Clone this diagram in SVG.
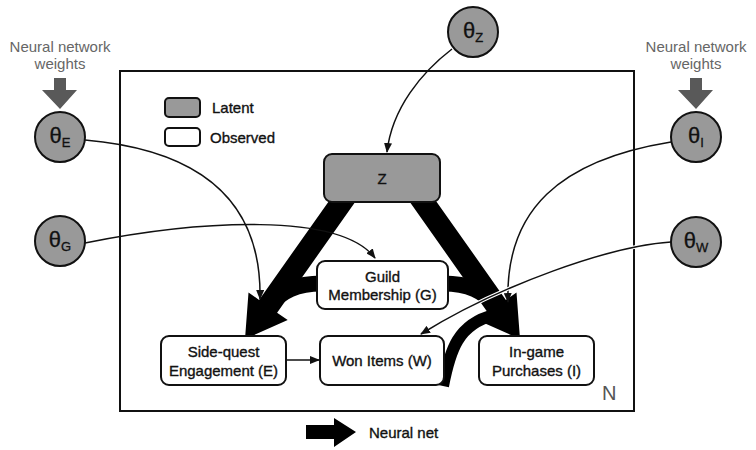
<svg xmlns="http://www.w3.org/2000/svg" width="756" height="450" viewBox="0 0 756 450">
<style>
text{font-family:"Liberation Sans",Arial,sans-serif;fill:#111}
.lbl{font-size:15px;text-anchor:middle;stroke:#111;stroke-width:0.35}
.leg{font-size:15px;stroke:#111;stroke-width:0.35}
.gray{fill:#666;font-size:15px;text-anchor:middle}
.th{font-size:22px;text-anchor:middle;stroke:#111;stroke-width:0.3}
.sub{font-size:13px}
.par{fill:#999;stroke:#111;stroke-width:2}
.obs{fill:#fff;stroke:#111;stroke-width:2}
.lat{fill:#999;stroke:#111;stroke-width:2}
.thin{fill:none;stroke:#111;stroke-width:1.5}
.halo{fill:none;stroke:#fff;stroke-width:3.5}
.band{fill:none;stroke:#000}
.gw{fill:#595959}
</style>
<defs>
<marker id="ah" viewBox="0 0 10 8" refX="9" refY="4" markerUnits="userSpaceOnUse" markerWidth="10" markerHeight="8" orient="auto">
<path d="M0,0 L10,4 L0,8 z" fill="#111"/>
</marker>
</defs>

<rect id="plate" x="120" y="71" width="514" height="340" fill="none" stroke="#111" stroke-width="2"/>
<text x="602" y="400" style="font-size:20px;fill:#555">N</text>

<g id="legend">
<rect x="165" y="98" width="35" height="19" rx="4" class="lat"/>
<text x="212" y="113" class="leg">Latent</text>
<rect x="165" y="128" width="35" height="18" rx="4" class="obs"/>
<text x="210" y="143" class="leg">Observed</text>
<polygon points="306,425 334,425 334,418 356,432 334,447 334,439 306,439" fill="#000"/>
<text x="369" y="438" class="leg">Neural net</text>
</g>

<g id="weights-left">
<text x="60" y="52" class="gray">Neural network</text>
<text x="60" y="69" class="gray">weights</text>
<polygon points="54,78 66,78 66,90 77,90 60,109 42,90 54,90" class="gw"/>
</g>
<g id="weights-right">
<text x="696" y="52" class="gray">Neural network</text>
<text x="696" y="69" class="gray">weights</text>
<polygon points="690,78 702,78 702,90 713,90 696,109 678,90 690,90" class="gw"/>
</g>

<g id="connectors">
<polygon points="358.7,197 277.1,312.7 287.7,320.1 245,339 248.5,292.5 259.1,299.9 340.7,184.4" fill="#000"/>
<polygon points="406.3,197 487.9,312.7 477.3,320.1 520,339 516.5,292.5 505.9,299.9 424.3,184.4" fill="#000"/>
<path d="M322,283.5 C296,283.5 282,291 268,306" class="band" stroke-width="16"/>
<path d="M443,283.5 C469,283.5 483,291 497,306" class="band" stroke-width="16"/>
<path d="M443,386 C450,350 458,324 494,315" class="band" stroke-width="12"/>
<path d="M452,49 C422,72 392,108 387,152" class="thin" marker-end="url(#ah)"/>
<path d="M85,140 C200,150 262,200 260,299" class="thin" marker-end="url(#ah)"/>
<path d="M85,243 C200,220 340,212 375,258" class="thin" marker-end="url(#ah)"/>
<path d="M671,142 C560,160 505,210 508,302" class="thin" marker-end="url(#ah)"/>
<path d="M671,242 C610,246 500,285 421,334" class="halo"/>
<path d="M671,242 C610,246 500,285 421,334" class="thin" marker-end="url(#ah)"/>
<path d="M286,360 L319,360" class="thin" marker-end="url(#ah)"/>
</g>

<g id="theta-E"><circle cx="60" cy="137" r="25" class="par"/><text x="60" y="143" class="th">θ<tspan class="sub" dy="4">E</tspan></text></g>
<g id="theta-G"><circle cx="60" cy="241" r="25" class="par"/><text x="60" y="247" class="th">θ<tspan class="sub" dy="4">G</tspan></text></g>
<g id="theta-Z"><circle cx="473" cy="32" r="25" class="par"/><text x="473" y="38" class="th">θ<tspan class="sub" dy="4">Z</tspan></text></g>
<g id="theta-I"><circle cx="696" cy="137" r="25" class="par"/><text x="696" y="143" class="th">θ<tspan class="sub" dy="4">I</tspan></text></g>
<g id="theta-W"><circle cx="696" cy="242" r="25" class="par"/><text x="696" y="248" class="th">θ<tspan class="sub" dy="4">W</tspan></text></g>

<g id="Z"><rect x="324" y="154" width="116" height="48" rx="8" class="lat"/><text x="382" y="184" class="lbl">Z</text></g>
<g id="G"><rect x="317" y="261" width="131" height="48" rx="8" class="obs"/><text x="382.5" y="282" class="lbl">Guild</text><text x="382.5" y="300" class="lbl">Membership (G)</text></g>
<g id="E"><rect x="161" y="336" width="125" height="49" rx="8" class="obs"/><text x="223.5" y="357" class="lbl">Side-quest</text><text x="223.5" y="376" class="lbl">Engagement (E)</text></g>
<g id="W"><rect x="320" y="336" width="124" height="49" rx="8" class="obs"/><text x="382" y="366" class="lbl">Won Items (W)</text></g>
<g id="I"><rect x="479" y="336" width="115" height="49" rx="8" class="obs"/><text x="536.5" y="357" class="lbl">In-game</text><text x="536.5" y="376" class="lbl">Purchases (I)</text></g>
</svg>
